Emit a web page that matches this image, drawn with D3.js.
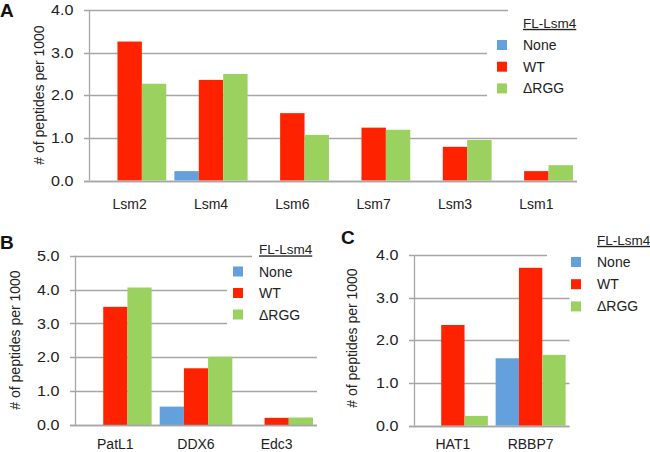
<!DOCTYPE html>
<html><head><meta charset="utf-8">
<script src="https://cdn.jsdelivr.net/npm/d3@7"></script>
<style>body{margin:0;background:#fff}svg{display:block}text{font-family:"Liberation Sans",Arial,sans-serif}</style>
</head><body><svg id="c" width="650" height="452"></svg>
<script>
const seriesNames = ["None", "WT", "\u0394RGG"];
const seriesColors = ["#64a0dc", "#ff2200", "#9bd25f"];

const catsA = ["Lsm2", "Lsm4", "Lsm6", "Lsm7", "Lsm3", "Lsm1"];
const noneA = [0, 0.22, 0, 0, 0, 0];
const wtA = [3.26, 2.36, 1.58, 1.24, 0.79, 0.22];
const rggA = [2.27, 2.50, 1.07, 1.19, 0.95, 0.36];
const ticksA = [0, 1, 2, 3, 4];

const catsB = ["PatL1", "DDX6", "Edc3"];
const noneB = [0, 0.55, 0];
const wtB = [3.49, 1.68, 0.22];
const rggB = [4.06, 2.02, 0.23];
const ticksB = [0, 1, 2, 3, 4, 5];

const catsC = ["HAT1", "RBBP7"];
const noneC = [0, 1.58];
const wtC = [2.36, 3.70];
const rggC = [0.23, 1.66];
const ticksC = [0, 1, 2, 3, 4];

const svg = d3.select("#c");
const gridColor = "#a6a6a6";

function panel(o) {
  const g = svg.append("g");
  const y = d3.scaleLinear().domain([0, d3.max(o.ticks)]).range([o.y0, o.y1]);
  const x = d3.scaleBand().domain(o.cats).range([o.x0, o.x1]).paddingInner(0).paddingOuter(0);
  const xs = d3.scaleBand().domain(seriesNames).range([0, x.bandwidth()]).paddingInner(0).paddingOuter(1/6);
  // gridlines
  g.selectAll("line.grid").data(o.ticks).enter().append("line")
    .attr("x1", o.x0 - 5).attr("x2", (d, i) => o.gridEnd[i])
    .attr("y1", d => Math.round(y(d)) + 0.5).attr("y2", d => Math.round(y(d)) + 0.5)
    .attr("stroke", gridColor).attr("stroke-width", 1.3);
  // axis line
  g.append("line").attr("x1", o.x0 + 0.5).attr("x2", o.x0 + 0.5)
    .attr("y1", y(d3.max(o.ticks))).attr("y2", o.y0)
    .attr("stroke", gridColor).attr("stroke-width", 1.3);
  // tick labels
  g.selectAll("text.tick").data(o.ticks).enter().append("text")
    .attr("transform", d => `translate(${o.x0 - 15.5},${y(d)}) scale(1.15,1)`)
    .attr("dy", "0.36em")
    .attr("text-anchor", "end").attr("font-size", 14).attr("fill", "#222")
    .text(d3.format(".1f"));
  // bars
  const series = [o.none, o.wt, o.rgg];
  series.forEach((vals, si) => {
    g.selectAll(null).data(o.cats).enter().append("rect")
      .attr("x", c => x(c) + xs(seriesNames[si]))
      .attr("width", xs.bandwidth())
      .attr("y", (c, i) => y(vals[i]))
      .attr("height", (c, i) => o.y0 - y(vals[i]))
      .attr("fill", seriesColors[si]);
  });
  // baseline redraw
  g.append("line").attr("x1", o.x0 - 5).attr("x2", o.x1)
    .attr("y1", Math.round(o.y0) + 0.5).attr("y2", Math.round(o.y0) + 0.5)
    .attr("stroke", gridColor).attr("stroke-width", 1.3);
  // category labels
  g.selectAll(null).data(o.cats).enter().append("text")
    .attr("x", c => x(c) + x.bandwidth() / 2).attr("y", o.catY)
    .attr("text-anchor", "middle").attr("font-size", 14).attr("fill", "#222")
    .text(c => c);
  // y title
  g.append("text").attr("transform", `translate(${o.titleX},${o.titleY}) rotate(-90)`)
    .attr("text-anchor", "middle").attr("font-size", 14).attr("fill", "#222")
    .text("# of peptides per 1000");
  // panel letter
  g.append("text").attr("x", o.letterX).attr("y", o.letterY)
    .attr("font-size", 19).attr("font-weight", "bold").attr("fill", "#111").text(o.letter);
  // legend
  const lg = g.append("g");
  lg.append("text").attr("x", o.legX + 26).attr("y", o.legY).attr("dy", "0.36em")
    .attr("font-size", 13.5).attr("fill", "#222").attr("text-decoration", "underline").text("FL-Lsm4");
  seriesNames.forEach((s, i) => {
    const cy = o.legY + 22 + i * o.legStep;
    lg.append("rect").attr("x", o.legX).attr("y", cy - 5).attr("width", 10).attr("height", 10)
      .attr("fill", seriesColors[i]);
    lg.append("text").attr("x", o.legX + 26).attr("y", cy).attr("dy", "0.36em")
      .attr("font-size", 14).attr("fill", "#222").text(s);
  });
}

panel({cats: catsA, none: noneA, wt: wtA, rgg: rggA, ticks: ticksA,
  x0: 89, x1: 577, y0: 180.5, y1: 10,
  gridEnd: [577, 577, 487, 487, 508],
  catY: 208.5, titleX: 44, titleY: 95, letter: "A", letterX: 0, letterY: 17,
  legX: 497, legY: 23, legStep: 21.7});

panel({cats: catsB, none: noneB, wt: wtB, rgg: rggB, ticks: ticksB,
  x0: 75, x1: 317, y0: 425.3, y1: 255.6,
  gridEnd: [317, 317, 317, 227, 227, 252],
  catY: 449, titleX: 20, titleY: 340, letter: "B", letterX: 0, letterY: 249,
  legX: 233, legY: 249.5, legStep: 21.5});

panel({cats: catsC, none: noneC, wt: wtC, rgg: rggC, ticks: ticksC,
  x0: 414, x1: 569.5, y0: 425.7, y1: 255,
  gridEnd: [569.5, 569.5, 569.5, 569.5, 547],
  catY: 448.5, titleX: 357, titleY: 338, letter: "C", letterX: 341, letterY: 244,
  legX: 571, legY: 240, legStep: 22.2});
</script></body></html>
